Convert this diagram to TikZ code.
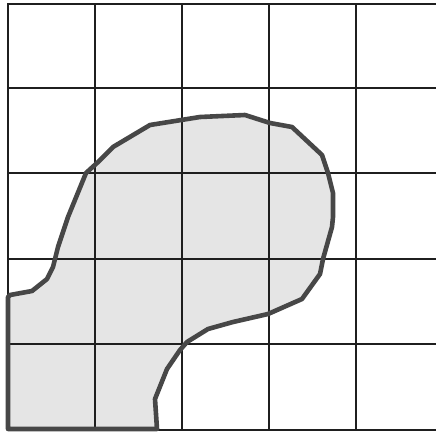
\documentclass[tikz,border=0pt]{standalone}
\begin{document}
\begin{tikzpicture}[x=1pt,y=-1pt,
  gridline/.style={draw=black!88,line width=2.4pt},
  blob/.style={draw=black!72,line width=4.6pt,line join=round,fill=black!10}]
\useasboundingbox (0,0) rectangle (436,434);
\fill[black!10] (86,173) -- (97,163) -- (113,147) -- (150,125) -- (200,117) -- (245,115) -- (270,123) -- (292,127) -- (322,155) -- (328,173) -- (333,193) -- (333,217) -- (332,227) -- (323,259) -- (320,274) -- (302,299) -- (268,314) -- (233,322) -- (208,329) -- (187,342) -- (180,350) -- (167,369) -- (155,399) -- (157,429) -- (8,429) -- (8,297) -- (10,295) -- (32,291) -- (47,279) -- (53,267) -- (58,247) -- (68,217) -- cycle;
\foreach \x in {8,95,182,269,356} \draw[gridline] (\x,4) -- (\x,430);
\foreach \y in {4,88,173,259,344,430} \draw[gridline] (7,\y) -- (436,\y);
\draw[blob,fill=none] (86,173) -- (97,163) -- (113,147) -- (150,125) -- (200,117) -- (245,115) -- (270,123) -- (292,127) -- (322,155) -- (328,173) -- (333,193) -- (333,217) -- (332,227) -- (323,259) -- (320,274) -- (302,299) -- (268,314) -- (233,322) -- (208,329) -- (187,342) -- (180,350) -- (167,369) -- (155,399) -- (157,429) -- (8,429) -- (8,297) -- (10,295) -- (32,291) -- (47,279) -- (53,267) -- (58,247) -- (68,217) -- cycle;
\end{tikzpicture}
\end{document}
